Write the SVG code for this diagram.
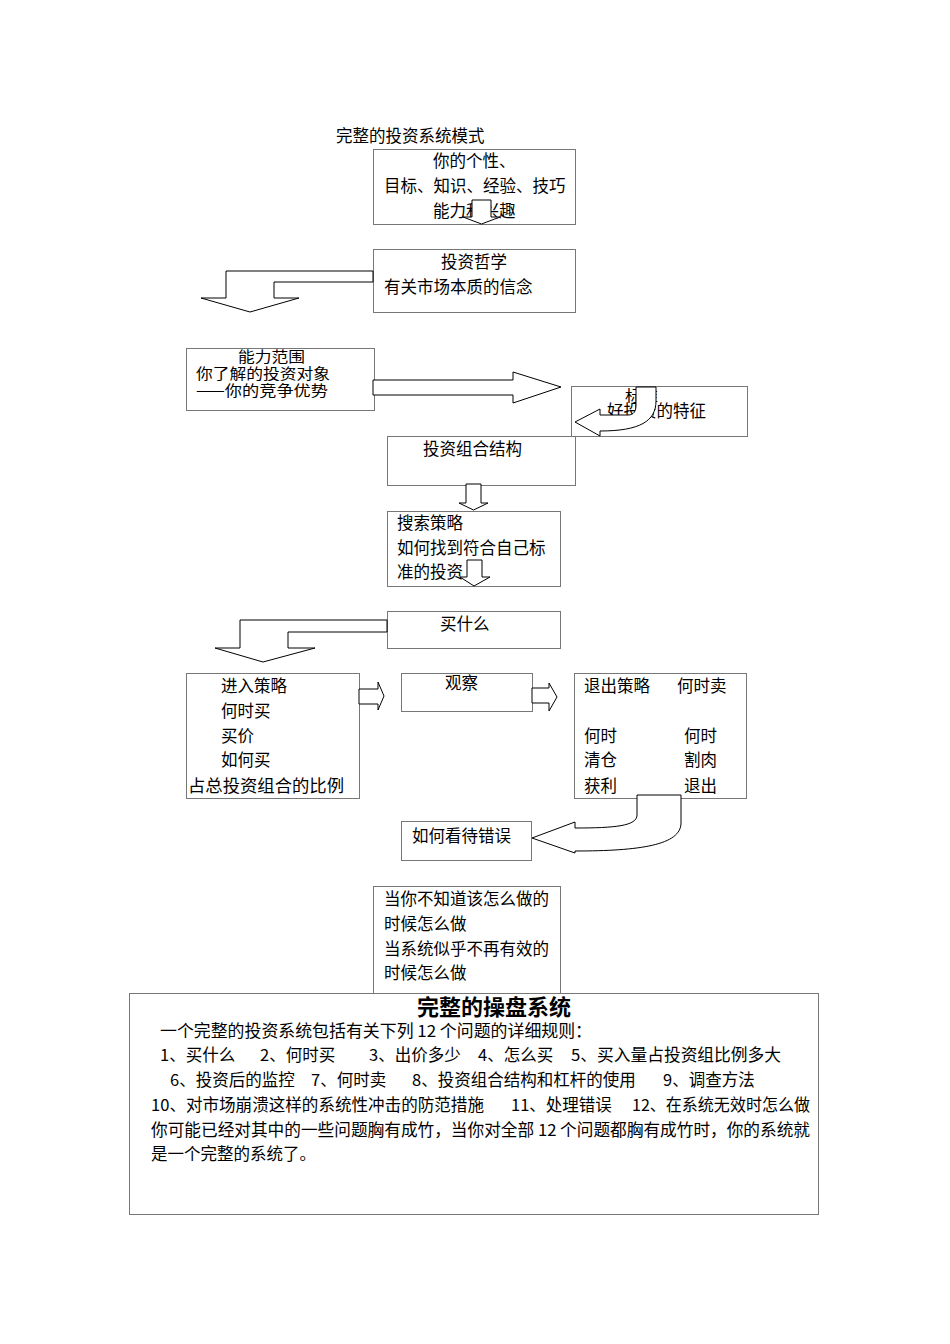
<svg xmlns="http://www.w3.org/2000/svg" width="950" height="1344" viewBox="0 0 950 1344">
<style>
text{font-family:"Noto Sans CJK SC","Noto Sans",sans-serif;font-size:16.5px;fill:#000}
.tight{font-size:14.5px}
.box{fill:#fff;stroke:#777;stroke-width:1}
.arr{fill:#fff;stroke:#000;stroke-width:1;stroke-linejoin:miter}
.ttl{font-size:22px;font-weight:bold}
</style>
<rect width="950" height="1344" fill="#fff"/>
<text x="336" y="142">完整的投资系统模式</text>

<g id="n1"><rect class="box" x="373.5" y="149.5" width="202" height="75"/>
<text x="433" y="167">你的个性、</text>
<text x="384" y="192">目标、知识、经验、技巧</text>
<text x="433" y="217">能力和兴趣</text></g>

<g id="n2"><rect class="box" x="373.5" y="249.5" width="202" height="63"/>
<text x="441" y="268">投资哲学</text>
<text x="384" y="293">有关市场本质的信念</text></g>

<g id="n3"><rect class="box" x="186.5" y="348.5" width="188" height="62"/>
<text class="tight" x="238" y="362" textLength="67" lengthAdjust="spacingAndGlyphs">能力范围</text>
<text class="tight" x="196" y="379" textLength="134" lengthAdjust="spacingAndGlyphs">你了解的投资对象</text>
<text class="tight" x="196" y="396" textLength="132" lengthAdjust="spacingAndGlyphs">——你的竞争优势</text></g>

<g id="n4"><rect class="box" x="571.5" y="386.5" width="176" height="50"/>
<text class="tight" x="625" y="401" textLength="33" lengthAdjust="spacingAndGlyphs">标准</text>
<text x="607" y="417" textLength="99" lengthAdjust="spacingAndGlyphs">好投资的特征</text></g>

<g id="n5"><rect class="box" x="387.5" y="436.5" width="188" height="49"/>
<text x="423" y="455">投资组合结构</text></g>

<g id="n6"><rect class="box" x="387.5" y="511.5" width="173" height="75"/>
<text x="397" y="529">搜索策略</text>
<text x="397" y="554">如何找到符合自己标</text>
<text x="397" y="578">准的投资</text></g>

<g id="n7"><rect class="box" x="387.5" y="611.5" width="173" height="37"/>
<text x="440" y="630">买什么</text></g>

<g id="n8"><rect class="box" x="186.5" y="673.5" width="173" height="125"/>
<text x="221" y="692">进入策略</text>
<text x="221" y="717">何时买</text>
<text x="221" y="742">买价</text>
<text x="221" y="766">如何买</text>
<text x="188" y="792" textLength="156" lengthAdjust="spacingAndGlyphs">占总投资组合的比例</text></g>

<g id="n9"><rect class="box" x="401.5" y="673.5" width="131" height="38"/>
<text x="445" y="689">观察</text></g>

<g id="n10"><rect class="box" x="574.5" y="673.5" width="172" height="125"/>
<text x="584" y="692">退出策略</text>
<text x="677" y="692">何时卖</text>
<text x="584" y="742">何时</text>
<text x="684" y="742">何时</text>
<text x="584" y="766">清仓</text>
<text x="684" y="766">割肉</text>
<text x="584" y="792">获利</text>
<text x="684" y="792">退出</text></g>

<g id="n11"><rect class="box" x="401.5" y="821.5" width="130" height="39"/>
<text x="412" y="842">如何看待错误</text></g>

<g id="n12"><rect class="box" x="373.5" y="886.5" width="187" height="107"/>
<text x="384" y="905">当你不知道该怎么做的</text>
<text x="384" y="930">时候怎么做</text>
<text x="384" y="955">当系统似乎不再有效的</text>
<text x="384" y="979">时候怎么做</text></g>

<g id="n13"><rect class="box" x="129.5" y="993.5" width="689" height="221"/>
<text class="ttl" x="494" y="1015" text-anchor="middle">完整的操盘系统</text>
<text x="160" y="1037" textLength="432" lengthAdjust="spacingAndGlyphs">一个完整的投资系统包括有关下列 12 个问题的详细规则：</text>
<text x="160" y="1061">1、买什么</text>
<text x="260" y="1061">2、何时买</text>
<text x="369" y="1061">3、出价多少</text>
<text x="478" y="1061">4、怎么买</text>
<text x="571" y="1061" textLength="210" lengthAdjust="spacingAndGlyphs">5、买入量占投资组比例多大</text>
<text x="170" y="1086">6、投资后的监控</text>
<text x="311" y="1086">7、何时卖</text>
<text x="412" y="1086">8、投资组合结构和杠杆的使用</text>
<text x="663" y="1086">9、调查方法</text>
<text x="151" y="1111" textLength="333" lengthAdjust="spacingAndGlyphs">10、对市场崩溃这样的系统性冲击的防范措施</text>
<text x="511" y="1111">11、处理错误</text>
<text x="632" y="1111" textLength="178" lengthAdjust="spacingAndGlyphs">12、在系统无效时怎么做</text>
<text x="151" y="1136" textLength="659" lengthAdjust="spacingAndGlyphs">你可能已经对其中的一些问题胸有成竹，当你对全部 12 个问题都胸有成竹时，你的系统就</text>
<text x="151" y="1160">是一个完整的系统了。</text></g>

<g id="connectors">
<polygon class="arr" points="472,200 491,200 491,217 500,217 481.5,224 463,217 472,217"/>
<polygon class="arr" points="373,271 226,271 226,298 201,298 250,312 299,298 274,298 274,282 373,282"/>
<polygon class="arr" points="373,380 513,380 513,372 561,387 513,403 513,395 373,395"/>
<path class="arr" d="M636,387 L656,387 L656,401 C656,421 640,431 600,431 L600,436 L575,422 L600,409 L600,415 L628,415 C634,415 636,411 636,405 Z"/>
<polygon class="arr" points="466,484 481,484 481,503 488,503 473.5,510 459,503 466,503"/>
<polygon class="arr" points="467,560 482,560 482,577 490,577 474,586 460,577 467,577"/>
<polygon class="arr" points="387,620 240,620 240,648 215,648 263,662 315,648 288,648 288,632 387,632"/>
<polygon class="arr" points="359,689 378,689 378,682 384,696 378,710 378,704 359,704"/>
<polygon class="arr" points="532,688 549,688 549,683 557,697 549,711 549,703 532,703"/>
<path class="arr" d="M637,795 L681,795 L681,823 C681,845 640,851 575,851 L575,853 L532,838 L575,822 L575,828 C615,828 637,826 637,815 Z"/>
</g>
</svg>
